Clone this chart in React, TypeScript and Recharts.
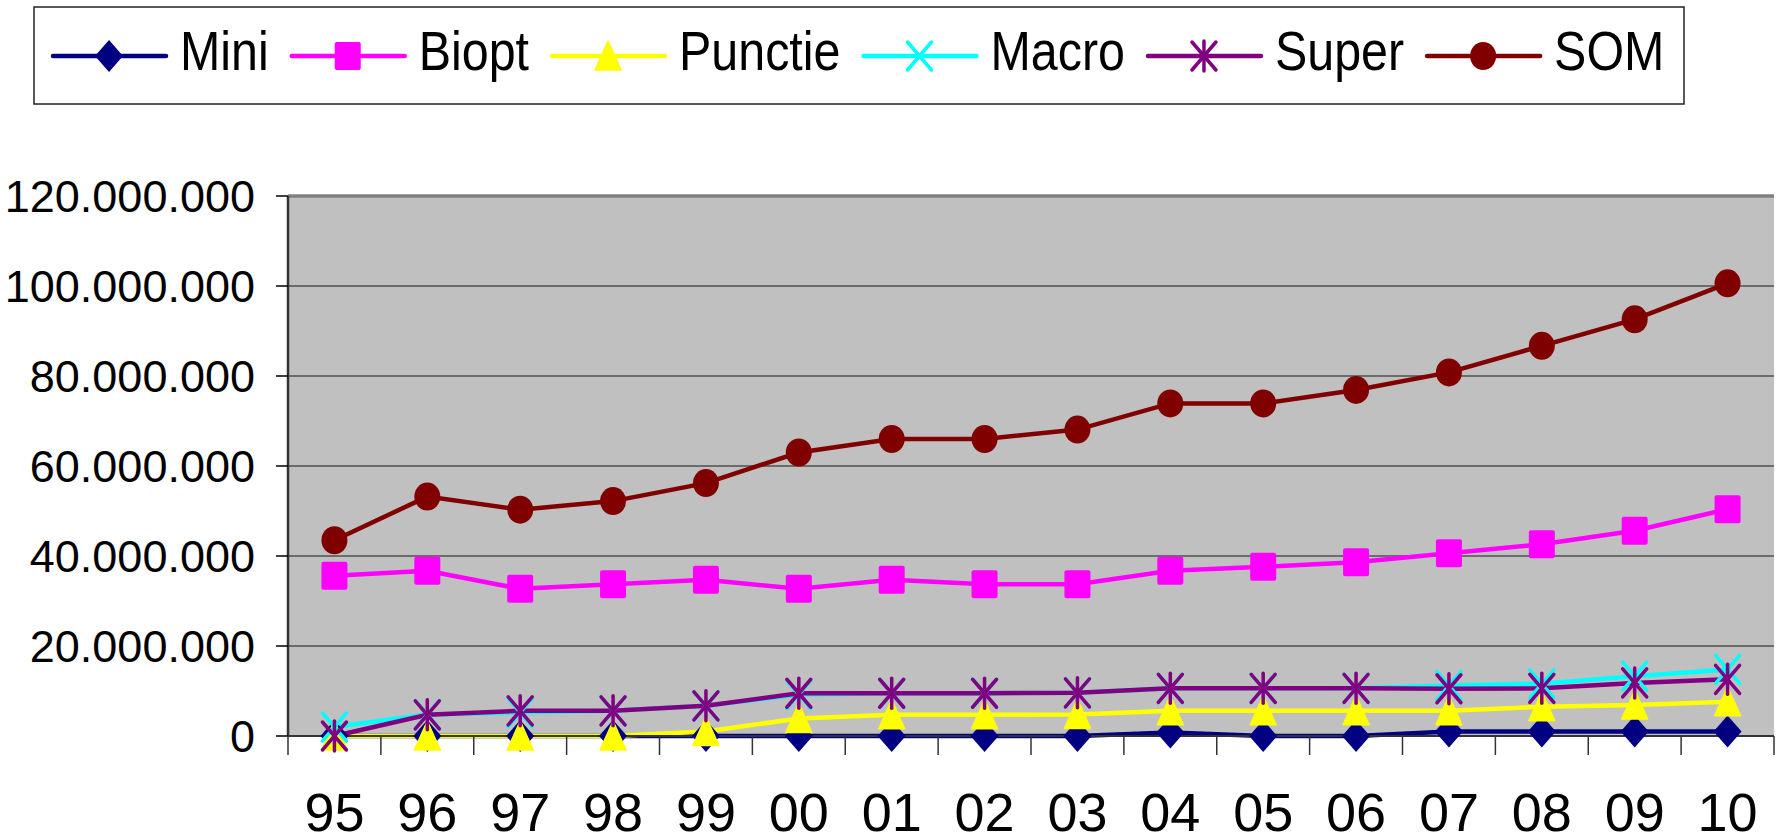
import React from 'react';
import { LineChart, Line, XAxis, YAxis, CartesianGrid, Legend, ReferenceLine } from 'recharts';

// ---------- data ----------
const YEARS = ['95', '96', '97', '98', '99', '00', '01', '02', '03', '04', '05', '06', '07', '08', '09', '10'];
const MINI = [0, 0, 0, 0, 0, 0, 0, 0, 0, 800000, 0, 0, 1000000, 1000000, 1000000, 1000000];
const BIOPT = [35600000, 36700000, 32700000, 33700000, 34700000, 32700000, 34700000, 33700000, 33700000, 36700000, 37600000, 38600000, 40600000, 42600000, 45600000, 50400000];
const PUNCTIE = [0, 0, 0, 0, 1000000, 3900000, 4700000, 4700000, 4800000, 5600000, 5600000, 5600000, 5600000, 6500000, 6900000, 7600000];
const MACRO = [2000000, 4800000, 5200000, 5600000, 6700000, 9200000, 9500000, 9500000, 9600000, 10600000, 10600000, 10600000, 11200000, 11600000, 13300000, 14800000];
const SUPER = [0, 4700000, 5600000, 5600000, 6700000, 9500000, 9500000, 9500000, 9600000, 10600000, 10600000, 10600000, 10500000, 10600000, 11800000, 12600000];
const SOM = [43500000, 53200000, 50300000, 52200000, 56200000, 63000000, 66000000, 66000000, 68100000, 73900000, 73900000, 76900000, 80800000, 86700000, 92600000, 100600000];
const Y_TICKS = [0, 20000000, 40000000, 60000000, 80000000, 100000000, 120000000];

// ---------- layout / style ----------
const W = 1783;
const H = 839;
const Y_AXIS_W = 288;
const RIGHT_M = 9;
const TOP_M = 196;
const X_AXIS_H = 103;
const BAND = (W - Y_AXIS_W - RIGHT_M) / YEARS.length;
const FONT = 'Liberation Sans, Arial, Helvetica, sans-serif';

type Shape = 'diamond' | 'square' | 'triangle' | 'x' | 'star' | 'circle';
const SERIES: { key: string; color: string; shape: Shape; values: number[] }[] = [
  { key: 'Mini', color: '#000080', shape: 'diamond', values: MINI },
  { key: 'Biopt', color: '#FF00FF', shape: 'square', values: BIOPT },
  { key: 'Punctie', color: '#FFFF00', shape: 'triangle', values: PUNCTIE },
  { key: 'Macro', color: '#00FFFF', shape: 'x', values: MACRO },
  { key: 'Super', color: '#800080', shape: 'star', values: SUPER },
  { key: 'SOM', color: '#800000', shape: 'circle', values: SOM },
];

const data = YEARS.map((year, i) => {
  const row: Record<string, any> = { year };
  SERIES.forEach((s) => {
    row[s.key] = s.values[i];
  });
  return row;
});

function Marker({ shape, cx, cy, color }: { shape: Shape; cx: number; cy: number; color: string }) {
  switch (shape) {
    case 'diamond':
      return <polygon points={`${cx},${cy - 16} ${cx + 14},${cy} ${cx},${cy + 16} ${cx - 14},${cy}`} fill={color} />;
    case 'square':
      return <rect x={cx - 13} y={cy - 14} width={26} height={28} rx={2} fill={color} />;
    case 'triangle':
      return <polygon points={`${cx},${cy - 15} ${cx + 13},${cy + 14} ${cx - 13},${cy + 14}`} fill={color} stroke={color} strokeWidth={1.5} strokeLinejoin="round" />;
    case 'x':
      return (
        <g stroke={color} strokeWidth={3.5} strokeLinecap="round">
          <line x1={cx - 12} y1={cy - 14} x2={cx + 12} y2={cy + 14} />
          <line x1={cx + 12} y1={cy - 14} x2={cx - 12} y2={cy + 14} />
        </g>
      );
    case 'star':
      return (
        <g stroke={color} strokeWidth={3.5} strokeLinecap="round">
          <line x1={cx - 12} y1={cy - 14} x2={cx + 12} y2={cy + 14} />
          <line x1={cx + 12} y1={cy - 14} x2={cx - 12} y2={cy + 14} />
          <line x1={cx} y1={cy - 15} x2={cx} y2={cy + 15} />
        </g>
      );
    case 'circle':
    default:
      return <ellipse cx={cx} cy={cy} rx={13} ry={14} fill={color} />;
  }
}

const fmt = (v: number) => String(Math.round(v)).replace(/\B(?=(\d{3})+(?!\d))/g, '.');

function XTick(props: any) {
  const { x, y, payload, index } = props;
  const isLast = index === YEARS.length - 1 || payload.value === YEARS[YEARS.length - 1];
  return (
    <g>
      <line x1={x - BAND / 2} x2={x - BAND / 2} y1={y} y2={y + 19} stroke="#333" strokeWidth={1.5} />
      {isLast && <line x1={x + BAND / 2} x2={x + BAND / 2} y1={y} y2={y + 19} stroke="#333" strokeWidth={1.5} />}
      <text x={x} y={y + 95} textAnchor="middle" fontSize={54} fontFamily={FONT} fill="#000">
        {payload.value}
      </text>
    </g>
  );
}

function YTick(props: any) {
  const { y, payload } = props;
  return (
    <text x={Y_AXIS_W - 33} y={y} dy={16} textAnchor="end" fontSize={45} fontFamily={FONT} fill="#000">
      {fmt(payload.value)}
    </text>
  );
}

let measureCtx: CanvasRenderingContext2D | null = null;
function measure(text: string, size: number) {
  if (!measureCtx && typeof document !== 'undefined') {
    measureCtx = document.createElement('canvas').getContext('2d');
  }
  if (!measureCtx) return text.length * size * 0.55;
  measureCtx.font = `${size}px "Liberation Sans", Arial, sans-serif`;
  return measureCtx.measureText(text).width;
}

function LegendContent() {
  const size = 55;
  const squeeze = 0.88;
  let x = 53;
  const items = SERIES.map((s) => {
    const tw = measure(s.key, size) * squeeze;
    const x0 = x;
    x += 127 + tw + 23;
    return (
      <g key={s.key}>
        <line x1={x0} x2={x0 + 113} y1={56} y2={56} stroke={s.color} strokeWidth={4.5} strokeLinecap="round" />
        <Marker shape={s.shape} cx={x0 + 56} cy={56} color={s.color} />
        <text x={x0 + 127} y={70} fontSize={size} fontFamily={FONT} fill="#000" textLength={tw} lengthAdjust="spacingAndGlyphs">
          {s.key}
        </text>
      </g>
    );
  });
  return (
    <svg width={W} height={110} style={{ display: 'block' }}>
      <rect x={34} y={7} width={1650} height={97} fill="#fff" stroke="#222" strokeWidth={1.5} />
      {items}
    </svg>
  );
}

export default function App() {
  return (
    <div style={{ position: 'absolute', left: 0, top: 0, width: W, height: H, background: '#fff' }}>
      <LineChart width={W} height={H} data={data} margin={{ top: TOP_M, right: RIGHT_M, left: 0, bottom: 0 }}>
        <CartesianGrid horizontal vertical={false} stroke="#505050" strokeWidth={1.5} fill="#C0C0C0" fillOpacity={1} />
        <XAxis
          dataKey="year"
          height={X_AXIS_H}
          interval={0}
          padding={{ left: BAND / 2, right: BAND / 2 }}
          tickSize={0}
          tickMargin={0}
          tickLine={false}
          axisLine={{ stroke: '#333', strokeWidth: 2 }}
          tick={<XTick />}
        />
        <YAxis
          width={Y_AXIS_W}
          domain={[0, 120000000]}
          ticks={Y_TICKS}
          interval={0}
          tickSize={12}
          tickMargin={21}
          tick={<YTick />}
          tickLine={{ stroke: '#000', strokeWidth: 1.5 }}
          axisLine={{ stroke: '#333', strokeWidth: 2.5 }}
        />
        <YAxis
          yAxisId="right"
          orientation="right"
          width={0}
          domain={[0, 120000000]}
          tick={false}
          tickLine={false}
          axisLine={{ stroke: '#808080', strokeWidth: 3.5 }}
        />
        <ReferenceLine y={120000000} stroke="#808080" strokeWidth={3.5} />
        <Legend
          layout="horizontal"
          verticalAlign="middle"
          align="center"
          wrapperStyle={{ top: 0, left: 0, width: W, height: 110 }}
          content={<LegendContent />}
        />
        {SERIES.map((s) => (
          <Line
            key={s.key}
            type="linear"
            dataKey={s.key}
            name={s.key}
            stroke={s.color}
            strokeWidth={4.5}
            isAnimationActive={false}
            activeDot={false}
            dot={(p: any) => (
              <g key={`${s.key}-${p.index}`}>
                <Marker shape={s.shape} cx={p.cx} cy={p.cy} color={s.color} />
              </g>
            )}
          />
        ))}
      </LineChart>
    </div>
  );
}
